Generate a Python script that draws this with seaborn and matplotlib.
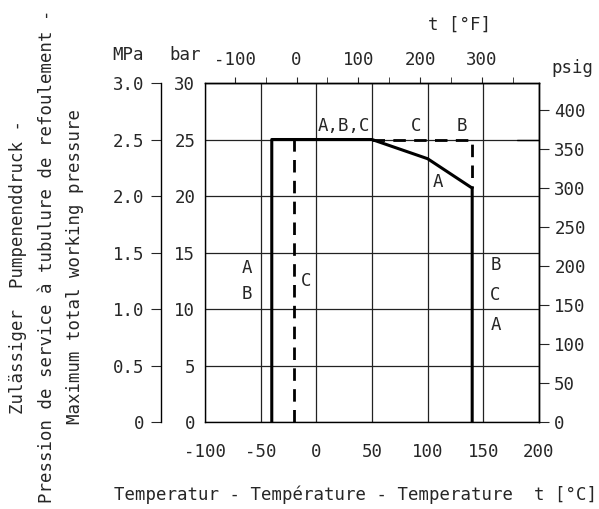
import matplotlib
matplotlib.use("Agg")
import matplotlib.pyplot as plt
import seaborn as sns

# -----------------------
# Data (temperature in °C, pressure in bar)
# -----------------------
solid_t = [-40, -40, 50, 100, 140, 140]
solid_p = [0, 25, 25, 23.3, 20.7, 0]
dash_c_t = [-20, -20]
dash_c_p = [0, 25]
dash_b_t = [50, 140, 140]
dash_b_p = [25, 25, 20.7]
ref_t = [180, 200]
ref_p = [25, 25]

x_ticks = [-100, -50, 0, 50, 100, 150, 200]
bar_ticks = [0, 5, 10, 15, 20, 25, 30]
mpa_ticks = [0, 0.5, 1.0, 1.5, 2.0, 2.5, 3.0]
mpa_labels = ["0", "0.5", "1.0", "1.5", "2.0", "2.5", "3.0"]
f_ticks = [-100, 0, 100, 200, 300]
f_minor = [-50, 50, 150, 250, 350]
psig_ticks = [0, 50, 100, 150, 200, 250, 300, 350, 400]

curve_text = ["A,B,C", "C", "B", "A", "A", "B", "C", "B", "C", "A"]
curve_text_t = [25, 90, 131, 109, -62, -62, -9, 161, 161, 161]
curve_text_p = [26.2, 26.2, 26.2, 21.2, 13.6, 11.3, 12.5, 13.9, 11.2, 8.6]

# -----------------------
# Style
# -----------------------
sns.set_style("white")
plt.rcParams["font.family"] = ["DejaVu Sans Mono"]
plt.rcParams["font.size"] = 12.5
plt.rcParams["axes.unicode_minus"] = False
plt.rcParams["axes.edgecolor"] = "black"
plt.rcParams["axes.linewidth"] = 1.0

fig = plt.figure(figsize=(5.99, 5.09), dpi=100)
ax = fig.add_axes([0.3422, 0.1709, 0.5576, 0.666])

# grid
for v in x_ticks:
    ax.axvline(v, color="#222222", lw=0.9, zorder=1)
for v in bar_ticks:
    ax.axhline(v, color="#222222", lw=0.9, zorder=1)

# curves
sns.lineplot(x=solid_t, y=solid_p, sort=False, estimator=None, ax=ax,
             color="black", lw=2.2, zorder=3)
sns.lineplot(x=dash_c_t, y=dash_c_p, sort=False, estimator=None, ax=ax,
             color="black", lw=2.0, linestyle=(0, (4.5, 3)), zorder=3)
sns.lineplot(x=dash_b_t, y=dash_b_p, sort=False, estimator=None, ax=ax,
             color="black", lw=2.0, linestyle=(0, (4.5, 3)), zorder=3)
sns.lineplot(x=ref_t, y=ref_p, sort=False, estimator=None, ax=ax,
             color="black", lw=1.0, zorder=3)

for s, t, p in zip(curve_text, curve_text_t, curve_text_p):
    ax.text(t, p, s, ha="center", va="center")

ax.set_xlim(-100, 200)
ax.set_ylim(0, 30)
ax.set_xticks(x_ticks)
ax.set_yticks(bar_ticks)
ax.tick_params(axis="x", length=0, pad=15)
ax.tick_params(axis="y", length=0, pad=7)
ax.set_xlabel("")
ax.set_ylabel("")
for s in ax.spines.values():
    s.set_visible(True)

# top axis in °F
top = ax.secondary_xaxis("top", functions=(lambda c: c * 9 / 5 + 32,
                                           lambda f: (f - 32) * 5 / 9))
top.set_xticks(f_ticks)
top.set_xticks(f_minor, minor=True)
top.tick_params(which="both", direction="out", length=4, pad=6)

# right axis in psig
right = ax.secondary_yaxis("right", functions=(lambda b: b * 14.5038,
                                               lambda p: p / 14.5038))
right.set_yticks(psig_ticks)
right.tick_params(direction="out", length=7, pad=4)

# left axis in MPa
left = ax.secondary_yaxis(-0.132, functions=(lambda b: b / 10,
                                             lambda m: m * 10))
left.set_yticks(mpa_ticks)
left.set_yticklabels(mpa_labels)
left.tick_params(direction="out", length=7, pad=5)

# unit labels
fig.text(128 / 599, 1 - 55 / 509, "MPa", ha="center", va="center")
fig.text(185 / 599, 1 - 55 / 509, "bar", ha="center", va="center")
fig.text(460 / 599, 1 - 25 / 509, "t [°F]", ha="center", va="center")
fig.text(572 / 599, 1 - 68 / 509, "psig", ha="center", va="center")
fig.text(356 / 599, 1 - 495 / 509,
         "Temperatur - Température - Temperature  t [°C]",
         ha="center", va="center")

# axis title (three lines)
fig.text(18 / 599, 1 - 267 / 509, "Zulässiger  Pumpenenddruck -",
         rotation=90, ha="center", va="center")
fig.text(47 / 599, 1 - 256 / 509,
         "Pression de service à tubulure de refoulement -",
         rotation=90, ha="center", va="center")
fig.text(75 / 599, 1 - 266 / 509, "Maximum total working pressure",
         rotation=90, ha="center", va="center")

fig.savefig("out.png", dpi=100)
